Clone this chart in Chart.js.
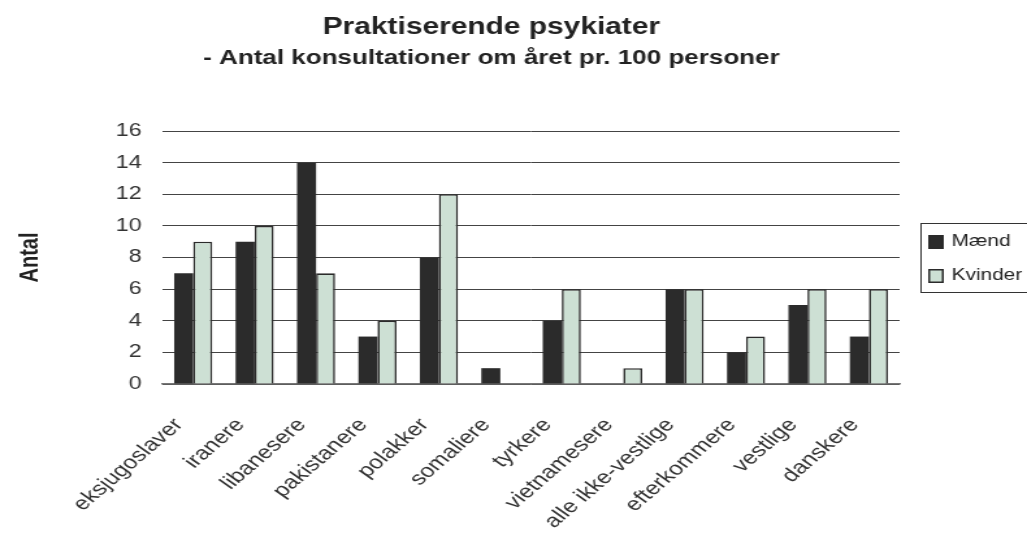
<!DOCTYPE html>
<html>
<head>
<meta charset="utf-8">
<script src="https://cdn.jsdelivr.net/npm/chart.js@4/dist/chart.umd.min.js"></script>
<style>
  body { margin: 0; background: #fff; }
  #wrap { width: 1027px; height: 534px; overflow: hidden; }
  /* the chart is drawn narrow and widened, like the old exported graphic */
  #chart { width: 790px; height: 534px; transform: scaleX(1.3); transform-origin: 0 0; }
</style>
</head>
<body>
<div id="wrap"><canvas id="chart" width="790" height="534"></canvas></div>
<script>
var categories = ['eksjugoslaver', 'iranere', 'libanesere', 'pakistanere', 'polakker', 'somaliere',
                  'tyrkere', 'vietnamesere', 'alle ikke-vestlige', 'efterkommere', 'vestlige', 'danskere'];
var maend   = [7, 9, 14, 3, 8, 1, 4, 0, 6, 2, 5, 3];
var kvinder = [9, 10, 7, 4, 12, 0, 6, 1, 6, 3, 6, 6];
var yTicks  = [0, 2, 4, 6, 8, 10, 12, 14, 16];

var FONT = '"Liberation Sans", Arial, sans-serif';

// titles centred over the plot, drawn on the canvas
var titlePlugin = {
    id: 'titles',
    afterDraw: function(chart) {
        var ctx = chart.ctx;
        ctx.save();
        ctx.fillStyle = '#222';
        ctx.textAlign = 'center';
        ctx.textBaseline = 'alphabetic';
        ctx.font = 'bold 23px ' + FONT;
        ctx.fillText('Praktiserende psykiater', 378, 34);
        ctx.font = 'bold 20px ' + FONT;
        ctx.fillText('- Antal konsultationer om året pr. 100 personer', 378, 64);
        ctx.restore();
    }
};

// boxed legend to the right of the plot
var legendPlugin = {
    id: 'boxLegend',
    afterDraw: function(chart) {
        var ctx = chart.ctx;
        var x = chart.chartArea.right + 16;
        var top = 223;
        ctx.save();
        ctx.strokeStyle = '#333';
        ctx.lineWidth = 1;
        ctx.strokeRect(x + 0.5, top + 0.5, 120, 69);
        ctx.font = '16px ' + FONT;
        ctx.textBaseline = 'middle';
        chart.data.datasets.forEach(function(ds, i) {
            var y = top + 12 + i * 34;
            ctx.fillStyle = ds.backgroundColor;
            ctx.fillRect(x + 6, y, 12, 14);
            ctx.strokeStyle = '#2b2b2b';
            ctx.lineWidth = 1.5;
            ctx.strokeRect(x + 6.75, y + 0.75, 10.5, 12.5);
            ctx.fillStyle = '#222';
            ctx.fillText(ds.label, x + 24, y + 7);
        });
        ctx.restore();
    }
};

var ctx = document.getElementById('chart').getContext('2d');
var myChart = new Chart(ctx, {
    type: 'bar',
    data: {
        labels: categories,
        datasets: [{
            label: 'Mænd',
            data: maend,
            backgroundColor: '#2b2b2b',
            borderWidth: 0
        }, {
            label: 'Kvinder',
            data: kvinder,
            backgroundColor: '#cde0d4',
            borderColor: '#2b2b2b',
            borderWidth: 1.6
        }]
    },
    options: {
        responsive: false,
        animation: false,
        devicePixelRatio: 1,
        layout: { padding: { top: 131, right: 98, left: 0, bottom: 0 } },
        datasets: { bar: { categoryPercentage: 0.62, barPercentage: 1 } },
        plugins: {
            legend: { display: false },
            tooltip: { enabled: false }
        },
        scales: {
            x: {
                grid: { display: false },
                border: { color: '#777', width: 1.5 },
                ticks: {
                    autoSkip: false,
                    maxRotation: 48,
                    minRotation: 48,
                    padding: 22,
                    labelOffset: -11,
                    color: '#333',
                    font: { family: FONT, size: 19 }
                },
                afterFit: function(scale) { scale.height = 150; }
            },
            y: {
                min: 0,
                max: 16,
                afterBuildTicks: function(scale) {
                    scale.ticks = yTicks.map(function(v) { return { value: v }; });
                },
                border: { display: false },
                grid: { color: '#444', lineWidth: 1, drawTicks: false },
                ticks: {
                    padding: 16,
                    color: '#333',
                    font: { family: FONT, size: 18 }
                },
                title: {
                    display: true,
                    text: 'Antal',
                    color: '#222',
                    font: { family: FONT, size: 20, weight: 'bold' },
                    padding: { top: 11, bottom: 0 }
                },
                afterFit: function(scale) { scale.width = 125; }
            }
        }
    },
    plugins: [titlePlugin, legendPlugin]
});
</script>
</body>
</html>
